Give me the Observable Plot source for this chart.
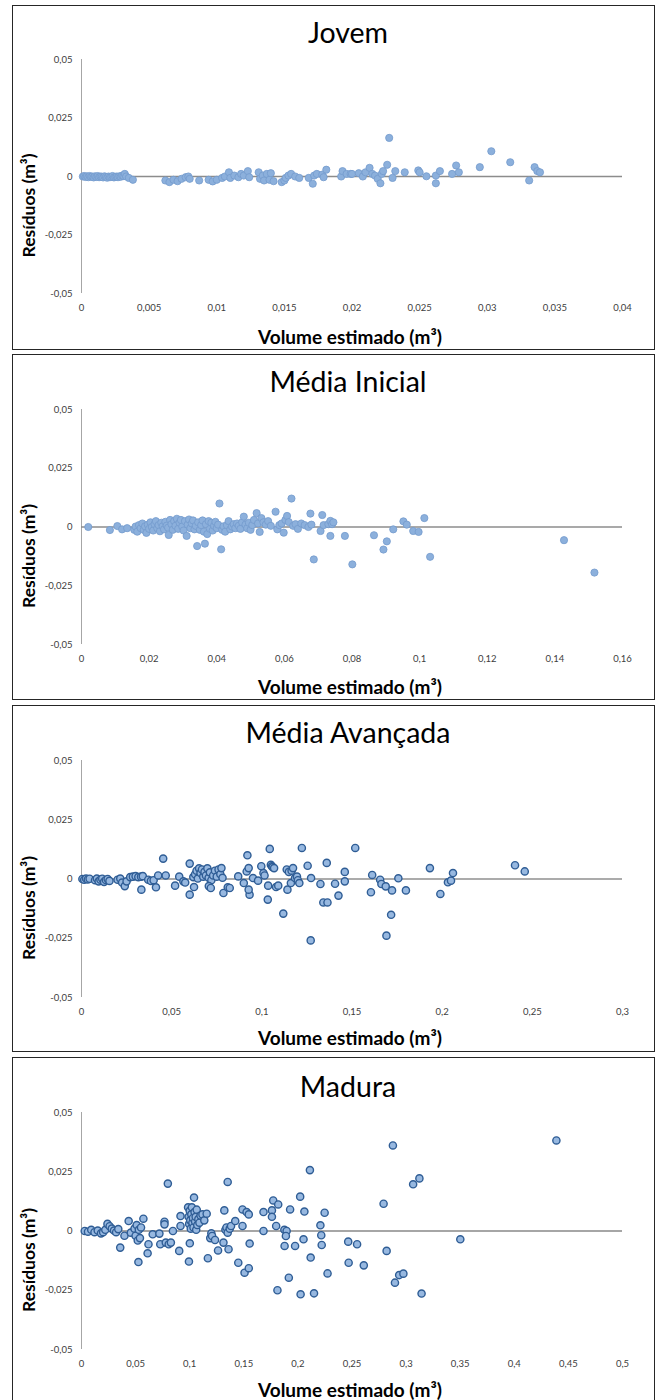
<!DOCTYPE html>
<html><head><meta charset="utf-8">
<script src="https://cdn.jsdelivr.net/npm/d3@7"></script>
<script src="https://cdn.jsdelivr.net/npm/@observablehq/plot@0.6"></script>
<style>
html,body{margin:0;padding:0;background:#fff;}
body{width:660px;height:1400px;overflow:hidden;position:relative;font-family:Lato,"Open Sans",sans-serif;}
.panel{position:absolute;left:12px;width:643px;box-sizing:border-box;border:1px solid #262626;background:#fff;overflow:hidden;}
.panel svg{display:block;}
</style></head><body>
<div id="p1" class="panel" style="top:5px;height:345px"></div>
<div id="p2" class="panel" style="top:354px;height:346px"></div>
<div id="p3" class="panel" style="top:705px;height:347px"></div>
<div id="p4" class="panel" style="top:1057px;height:352px"></div>
<script>
// ---------- shared labels / ticks ----------
const panelTitles = ["Jovem", "Média Inicial", "Média Avançada", "Madura"];
const xTitle = "Volume estimado (m³)";
const yTitle = "Resíduos (m³)";
const residueTicks = [-0.05, -0.025, 0, 0.025, 0.05];
const jovemXTicks = [0, 0.005, 0.01, 0.015, 0.02, 0.025, 0.03, 0.035, 0.04];
const inicialXTicks = [0, 0.02, 0.04, 0.06, 0.08, 0.1, 0.12, 0.14, 0.16];
const avancadaXTicks = [0, 0.05, 0.1, 0.15, 0.2, 0.25, 0.3];
const maduraXTicks = [0, 0.05, 0.1, 0.15, 0.2, 0.25, 0.3, 0.35, 0.4, 0.45, 0.5];

// ---------- Jovem ----------
const jovemVolume = [
0.0001,0.0002,0.0003,0.0004,0.0005,0.0006,0.0007,0.0008,0.0009,0.0010,0.0011,0.0012,0.0013,0.0014,0.0015,0.0016,0.0017,0.0018,0.0019,0.0020,0.0021,0.0022,0.0023,0.0024,0.0025,0.0026,0.0027,0.0028,0.0029,0.0030,0.0031,0.0032,0.0033,0.0035,0.0038,
0.0062,0.0065,0.0068,0.0071,0.0074,0.0077,0.0079,0.0080,0.0087,
0.0094,0.0097,0.0100,0.0104,0.0106,0.0109,0.0110,0.0113,0.0116,0.0118,0.0120,0.0123,0.0124,
0.0131,0.0132,0.0134,0.0135,0.0137,0.0139,0.0140,0.0142,
0.0148,0.0150,0.0151,0.0153,0.0155,0.0158,0.0161,
0.0168,0.0171,0.0172,0.0174,0.0178,0.0179,0.0181,
0.0192,0.0193,0.0196,0.0199,0.0200,0.0205,0.0208,0.0210,0.0213,0.0215,0.0217,0.0219,0.0221,0.0222,0.0223,0.0226,0.02275,
0.0230,0.0232,0.0239,0.0249,0.0250,0.0255,0.0262,0.0262,0.0265,0.0274,0.0277,0.0279,0.02945,0.0303,0.0317,0.0331,0.0335,0.0337,0.0339];
const jovemResidue = [
0.0000,0.0002,-0.0002,0.0001,-0.0003,0.0002,-0.0001,0.0000,-0.0004,0.0001,-0.0002,0.0002,-0.0003,0.0000,-0.0001,-0.0004,0.0001,-0.0002,-0.0005,0.0000,-0.0003,-0.0001,0.0002,-0.0004,-0.0002,0.0000,-0.0003,0.0001,-0.0001,0.0004,0.0002,0.0011,0.0000,-0.0006,-0.0014,
-0.0017,-0.0024,-0.0014,-0.0020,-0.0010,-0.0003,0.0000,-0.0010,-0.0017,
-0.0014,-0.0021,-0.0014,-0.0006,0.0000,0.0018,-0.0006,0.0004,-0.0003,0.0011,0.0004,0.0023,-0.0003,
0.0018,-0.0010,0.0004,-0.0017,0.0011,-0.0014,0.0014,-0.0020,
-0.0024,-0.0017,-0.0006,0.0004,0.0011,0.0000,-0.0006,
-0.0006,-0.0031,0.0004,0.0011,0.0008,-0.0003,0.0029,
0.0000,0.0023,0.0011,0.0011,0.0011,0.0014,0.0000,0.0018,0.0037,0.0011,0.0004,-0.0010,-0.0029,0.0011,0.0023,0.0050,0.0165,
-0.0006,0.0023,0.0018,0.0026,0.0018,0.0001,0.0004,-0.0029,0.0023,0.0011,0.0047,0.0018,0.0040,0.0108,0.0061,-0.0017,0.0040,0.0023,0.0018];

// ---------- Média Inicial ----------
const inicialVolume = [
0.0020,0.0084,0.0106,0.0120,0.0135,0.0156,0.0160,0.0165,0.0170,0.0175,0.0180,0.0184,0.0188,0.0192,0.0196,0.0200,0.0204,0.0208,0.0212,0.0216,0.0220,0.0224,0.0228,0.0232,0.0236,0.0240,0.0244,0.0248,0.0252,0.0256,0.0258,0.0262,0.0266,0.0270,0.0274,0.0278,0.0282,0.0286,0.0290,0.0294,0.0298,0.0302,0.0306,0.0311,0.0314,0.0318,0.0322,0.0326,0.0330,0.0334,0.0338,0.0342,0.0345,0.0350,0.0354,0.0358,0.0362,0.0365,0.0368,0.0372,0.0376,0.0380,0.0384,0.0388,0.0392,0.0396,0.0400,0.0404,0.0408,0.0413,0.0416,0.0420,0.0425,0.0430,0.0435,0.0440,0.0445,0.0450,0.0455,0.0460,0.0465,0.0470,0.0475,0.0480,0.0485,0.0490,0.0495,0.0500,0.0505,0.0510,0.0518,0.0522,0.0527,0.0532,0.0538,0.0545,0.0552,0.0560,0.0574,0.0579,0.0585,0.0592,0.0598,0.0603,0.0608,0.0613,0.0621,0.0626,0.0633,0.0640,0.0650,0.0660,0.0671,0.0677,0.0680,0.0687,0.0707,0.0712,0.0716,0.0730,0.0736,0.0741,0.0736,0.0745,0.0779,0.0801,0.0865,0.0893,0.0903,0.0922,0.0952,0.0962,0.0981,0.0997,0.1014,0.1031,0.1427,0.1517];
const inicialResidue = [
0.0000,-0.0013,0.0004,-0.0010,-0.0005,-0.0012,0.0002,-0.0020,0.0008,-0.0005,0.0015,-0.0012,0.0003,-0.0025,0.0010,-0.0008,0.0020,0.0000,-0.0015,0.0012,0.0025,-0.0005,0.0008,-0.0018,0.0018,0.0003,-0.0010,0.0022,0.0006,-0.0003,-0.0034,0.0030,0.0012,-0.0012,0.0025,0.0005,0.0035,-0.0008,0.0018,0.0030,0.0002,-0.0015,0.0025,-0.0038,0.0010,0.0032,-0.0005,0.0015,0.0028,-0.0010,0.0005,-0.0081,0.0020,-0.0012,0.0008,0.0028,-0.0020,-0.0071,0.0012,-0.0030,0.0025,-0.0008,0.0018,-0.0015,0.0005,0.0022,-0.0005,0.0010,0.0100,-0.0095,-0.0012,0.0003,-0.0020,0.0008,0.0025,-0.0010,0.0002,0.0012,-0.0005,0.0015,0.0005,-0.0008,0.0020,0.0044,0.0010,-0.0005,0.0018,-0.0012,0.0008,0.0030,0.0059,0.0015,-0.0021,0.0038,0.0020,0.0010,0.0025,0.0005,0.0065,-0.0010,0.0008,0.0015,-0.0024,0.0030,0.0047,0.0021,0.0121,0.0005,0.0012,-0.0008,0.0015,0.0008,0.0000,0.0057,0.0010,-0.0138,-0.0017,0.0051,0.0008,0.0012,0.0026,0.0012,-0.0038,0.0020,-0.0038,-0.0159,-0.0035,-0.0096,-0.0061,-0.0010,0.0024,0.0010,-0.0017,-0.0021,0.0038,-0.0127,-0.0056,-0.0194];

// ---------- Média Avançada ----------
const avancadaVolume = [
0.0005,0.0015,0.0025,0.0035,0.0045,0.0075,0.0085,0.0095,0.0105,0.0115,0.0125,0.0135,0.0145,0.0155,0.0200,0.0215,0.0225,0.0240,0.0250,0.0270,0.0285,0.0300,0.0315,0.0330,0.0340,0.0332,0.0370,0.0385,0.0400,0.0413,0.0425,0.0453,0.0467,0.0519,0.0542,0.0565,0.0575,0.0600,0.0600,0.0624,
0.0620,0.0630,0.0638,0.0645,0.0652,0.0660,0.0668,0.0675,0.0682,0.0690,0.0698,0.0705,0.0712,0.0720,0.0730,0.0740,0.0750,0.0760,0.0770,0.0782,
0.0706,0.0717,0.0776,0.0787,0.0811,0.0822,0.0869,0.0900,0.0920,0.0916,0.0927,0.0932,0.0927,0.0951,0.0997,0.0979,0.1009,0.1015,0.1033,0.1044,0.1035,0.1050,0.1056,0.1060,0.1068,0.1079,0.1091,0.1119,0.1138,0.1142,0.1150,0.1161,0.1165,0.1173,0.1184,0.1195,0.1200,0.1208,0.1222,0.1254,0.1273,0.1271,0.1325,0.1341,0.1364,0.1360,0.1406,0.1425,0.1460,0.1460,0.1518,0.1605,0.1612,0.1656,0.1663,0.1687,0.1691,0.1717,0.1722,0.1757,0.1799,0.1932,0.1990,0.2032,0.2049,0.2060,0.2404,0.2458];
const avancadaResidue = [
0.0000,-0.0003,0.0002,-0.0002,0.0001,-0.0005,0.0002,-0.0010,-0.0003,0.0001,-0.0012,-0.0004,0.0000,-0.0008,-0.0003,0.0002,-0.0015,-0.0030,-0.0010,0.0008,0.0010,0.0012,0.0008,0.0010,0.0012,-0.0045,-0.0003,-0.0008,-0.0005,-0.0035,0.0015,0.0086,0.0015,-0.0028,0.0010,-0.0010,-0.0015,0.0065,-0.0066,-0.0034,
0.0008,0.0020,0.0035,0.0002,0.0045,0.0025,0.0040,0.0010,0.0030,0.0015,0.0045,0.0005,0.0028,-0.0005,0.0015,0.0035,0.0010,0.0040,0.0020,0.0005,
-0.0030,-0.0038,0.0046,-0.0059,-0.0035,-0.0038,0.0011,-0.0017,0.0100,0.0032,0.0046,-0.0066,-0.0045,0.0004,0.0054,-0.0007,0.0025,0.0015,-0.0087,0.0127,-0.0028,0.0060,0.0054,0.0050,0.0046,-0.0034,-0.0028,-0.0146,0.0040,-0.0045,0.0030,-0.0017,0.0035,0.0046,0.0004,0.0010,-0.0005,-0.0017,0.0131,0.0056,0.0004,-0.0259,-0.0021,-0.0099,-0.0099,0.0068,-0.0020,-0.0070,0.0030,-0.0010,0.0131,-0.0056,0.0017,-0.0003,-0.0021,-0.0031,-0.0239,-0.0151,-0.0048,0.0003,-0.0048,0.0046,-0.0063,-0.0014,-0.0007,0.0025,0.0058,0.0032];

// ---------- Madura ----------
const maduraVolume = [
0.0030,0.0060,0.0090,0.0120,0.0150,0.0180,0.0200,0.0220,0.0240,0.0260,0.0280,0.0300,0.0320,0.0340,0.0358,0.0397,0.0436,0.0456,0.0490,0.0500,0.0510,0.0520,0.0530,0.0540,0.0550,0.0526,0.0572,0.0619,0.0611,0.0658,
0.0720,0.0728,0.0779,0.0806,0.0826,0.0767,0.0767,0.0798,0.0845,0.0903,0.0915,0.0915,0.0993,0.1001,
0.0985,0.0990,0.0995,0.1000,0.1005,0.1010,0.1015,0.1020,0.1025,0.1030,0.1035,0.1040,0.1045,0.1050,0.1055,0.1060,0.1065,0.1070,0.1080,0.1090,0.1100,0.1118,0.1135,0.1157,
0.1168,0.1190,0.1200,0.1207,0.1234,0.1262,0.1312,0.1320,0.1330,0.1340,0.1351,0.1351,0.1359,0.1370,0.1382,0.1421,0.1449,0.1488,0.1488,0.1526,0.1546,0.1507,0.1546,0.1554,0.1682,0.1682,0.1760,0.1772,0.1818,0.1760,0.1799,0.1811,0.1875,0.1877,0.1896,0.1889,0.1916,0.1928,0.1974,0.2021,0.2025,0.2052,0.2060,0.2111,0.2118,0.2149,0.2208,0.2216,0.2220,0.2247,0.2274,0.2465,0.2469,0.2547,0.2609,0.2792,0.2820,0.2878,0.2897,0.2936,0.2975,0.3065,0.3123,0.3143,0.3501,0.4389];
const maduraResidue = [
0.0000,-0.0003,0.0005,-0.0005,0.0002,-0.0010,-0.0005,0.0005,0.0030,0.0020,0.0010,0.0002,-0.0005,0.0008,-0.0070,-0.0020,0.0042,-0.0007,0.0010,-0.0020,0.0025,-0.0040,0.0005,-0.0030,0.0015,-0.0131,0.0052,-0.0056,-0.0094,-0.0014,
-0.0011,-0.0056,-0.0049,-0.0056,-0.0049,0.0039,0.0028,0.0200,0.0000,-0.0084,0.0063,0.0021,-0.0129,-0.0052,
0.0100,0.0060,0.0030,0.0085,0.0045,0.0010,0.0070,0.0100,0.0035,0.0055,0.0015,0.0141,0.0080,0.0040,0.0060,0.0005,0.0090,0.0025,0.0050,0.0035,0.0065,0.0070,0.0045,0.0073,
-0.0115,-0.0030,-0.0010,-0.0021,-0.0038,-0.0082,-0.0049,0.0087,0.0005,0.0015,0.0207,-0.0007,-0.0077,0.0010,0.0021,0.0042,-0.0134,0.0021,0.0091,0.0080,0.0070,-0.0176,-0.0157,-0.0053,0.0080,0.0000,0.0087,0.0129,0.0112,0.0060,0.0021,-0.0250,0.0005,-0.0063,0.0000,-0.0021,-0.0197,0.0091,-0.0063,0.0145,-0.0267,-0.0035,0.0082,0.0257,-0.0112,-0.0263,0.0024,-0.0018,-0.0059,0.0077,-0.0179,-0.0045,-0.0134,-0.0056,-0.0145,0.0115,-0.0084,0.0361,-0.0218,-0.0186,-0.0180,0.0197,0.0222,-0.0264,-0.0035,0.0382];

// ---------- drawing ----------
const fmt = d => String(d).replace(".", ",");
const lightDot = {r: 3.6, fill: "#8cb0dc", stroke: "#749bcd", strokeWidth: 0.8};
const outlinedDot = {r: 3.6, fill: "#97b8e0", stroke: "#2f5d95", strokeWidth: 1.4};

const panels = [
  {id: "p1", title: panelTitles[0], xs: jovemVolume, ys: jovemResidue, xMax: 0.04, xTicks: jovemXTicks,
   height: 343, mt: 53, mb: 56, titleDy: -26, xTitleDy: 44, dot: lightDot, zero: {stroke: "#8c8c8c", strokeWidth: 1.6}},
  {id: "p2", title: panelTitles[1], xs: inicialVolume, ys: inicialResidue, xMax: 0.16, xTicks: inicialXTicks,
   height: 344, mt: 54, mb: 55, titleDy: -27, xTitleDy: 43, dot: lightDot, zero: {stroke: "#8c8c8c", strokeWidth: 1.6}},
  {id: "p3", title: panelTitles[2], xs: avancadaVolume, ys: avancadaResidue, xMax: 0.3, xTicks: avancadaXTicks,
   height: 345, mt: 54, mb: 54, titleDy: -27, xTitleDy: 41, dot: outlinedDot, zero: {stroke: "#595959", strokeWidth: 1.1}},
  {id: "p4", title: panelTitles[3], xs: maduraVolume, ys: maduraResidue, xMax: 0.5, xTicks: maduraXTicks,
   height: 350, mt: 54, mb: 59, titleDy: -25, xTitleDy: 41, dot: outlinedDot, zero: {stroke: "#a6a6a6", strokeWidth: 1.8}}
];

for (const p of panels) {
  const rows = p.xs.map((x, i) => ({x, y: p.ys[i]}));
  const chart = Plot.plot({
    width: 641,
    height: p.height,
    marginLeft: 68,
    marginRight: 32,
    marginTop: p.mt,
    marginBottom: p.mb,
    style: {fontFamily: "Lato, 'Open Sans', sans-serif", fontSize: "9.5px", color: "#404040", background: "#fff", overflow: "visible"},
    x: {domain: [0, p.xMax]},
    y: {domain: [-0.05, 0.05]},
    marks: [
      Plot.axisX({ticks: p.xTicks, tickFormat: fmt, tickSize: 0, tickPadding: 11, label: null}),
      Plot.axisY({ticks: residueTicks, tickFormat: fmt, tickSize: 0, tickPadding: 9, label: null}),
      Plot.ruleX([0], {stroke: "#a6a6a6", strokeWidth: 1}),
      Plot.ruleY([0], p.zero),
      Plot.dot(rows, {x: "x", y: "y", ...p.dot}),
      Plot.text([p.title], {text: d => d, frameAnchor: "top", lineAnchor: "middle", dy: p.titleDy, dx: -4, fontSize: 28.5, fill: "#000"}),
      Plot.text([xTitle], {text: d => d, frameAnchor: "bottom", lineAnchor: "middle", dy: p.xTitleDy, dx: -2, fontSize: 19, fontWeight: "bold", fill: "#000"}),
      Plot.text([yTitle], {text: d => d, frameAnchor: "left", textAnchor: "middle", lineAnchor: "middle", rotate: -90, dx: -52, dy: 29, fontSize: 17.5, fontWeight: "bold", fill: "#000"})
    ]
  });
  document.getElementById(p.id).appendChild(chart);
}
</script>
</body></html>
